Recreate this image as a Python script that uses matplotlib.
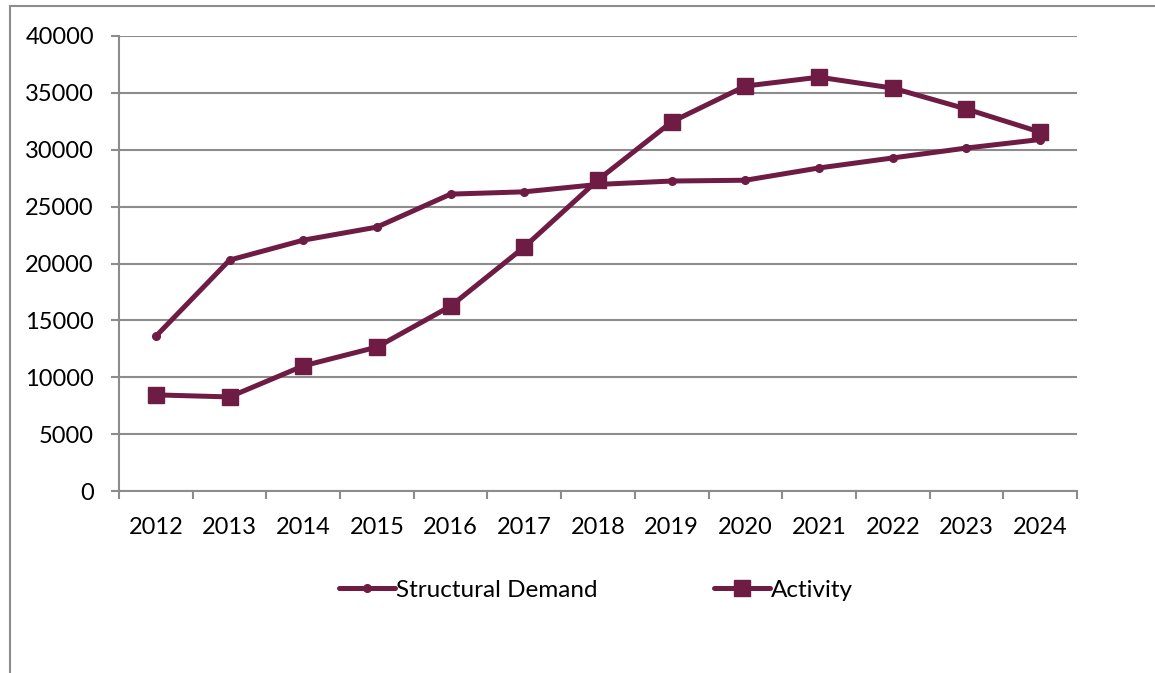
import matplotlib.pyplot as plt
from matplotlib.patches import Rectangle

# data
years = ['2012', '2013', '2014', '2015', '2016', '2017', '2018',
         '2019', '2020', '2021', '2022', '2023', '2024']
structural_demand = [13600, 20300, 22050, 23200, 26100, 26300, 26950,
                     27250, 27320, 28400, 29280, 30150, 30900]
activity = [8450, 8270, 11000, 12650, 16250, 21450, 27350,
            32450, 35600, 36380, 35420, 33580, 31550]
y_ticks = [0, 5000, 10000, 15000, 20000, 25000, 30000, 35000, 40000]

line_color = '#6f1c45'
grid_color = '#8c8c8c'

plt.rcParams['font.family'] = ['Lato', 'DejaVu Sans']

fig = plt.figure(figsize=(11.55, 6.73), dpi=100)
ax = fig.add_axes([119 / 1155, 1 - 491 / 673, (1077 - 119) / 1155, (491 - 36) / 673])

x = list(range(len(years)))
ax.plot(x, structural_demand, color=line_color, lw=3.6, marker='o', ms=5.5,
        label='Structural Demand', solid_capstyle='round', zorder=3)
ax.plot(x, activity, color=line_color, lw=3.6, marker='s', ms=12,
        label='Activity', solid_capstyle='round', zorder=3)

ax.set_xlim(-0.5, len(years) - 0.5)
ax.set_ylim(0, 40000)
ax.set_yticks(y_ticks)
ax.set_yticklabels([str(v) for v in y_ticks])

# ticks at category boundaries, labels at category centres
ax.set_xticks([i - 0.5 for i in range(len(years) + 1)])
ax.set_xticklabels([])
ax.set_xticks(x, minor=True)
ax.set_xticklabels(years, minor=True)
ax.tick_params(axis='x', which='major', length=6, width=1.5, color=grid_color)
ax.tick_params(axis='x', which='minor', length=0, pad=19, labelsize=17)
ax.tick_params(axis='y', length=6, width=1.5, color=grid_color, pad=12, labelsize=17)

ax.grid(axis='y', color=grid_color, lw=1.5)
ax.set_axisbelow(True)
for side in ['top', 'right']:
    ax.spines[side].set_visible(False)
for side in ['left', 'bottom']:
    ax.spines[side].set_color(grid_color)
    ax.spines[side].set_linewidth(1.5)

fig.legend(loc='center', bbox_to_anchor=(596 / 1155, 1 - 590 / 673), ncol=2, frameon=False,
           fontsize=17.5, handlelength=2.3, handletextpad=0.05, columnspacing=4.8)

# outer chart frame (cut off at right and bottom)
fig.patches.append(Rectangle((9.5 / 1155, -0.05), 1.1, 1 - 6 / 673 + 0.05,
                             transform=fig.transFigure, fill=False,
                             edgecolor=grid_color, lw=1.5))

plt.savefig('out.png', dpi=100)
